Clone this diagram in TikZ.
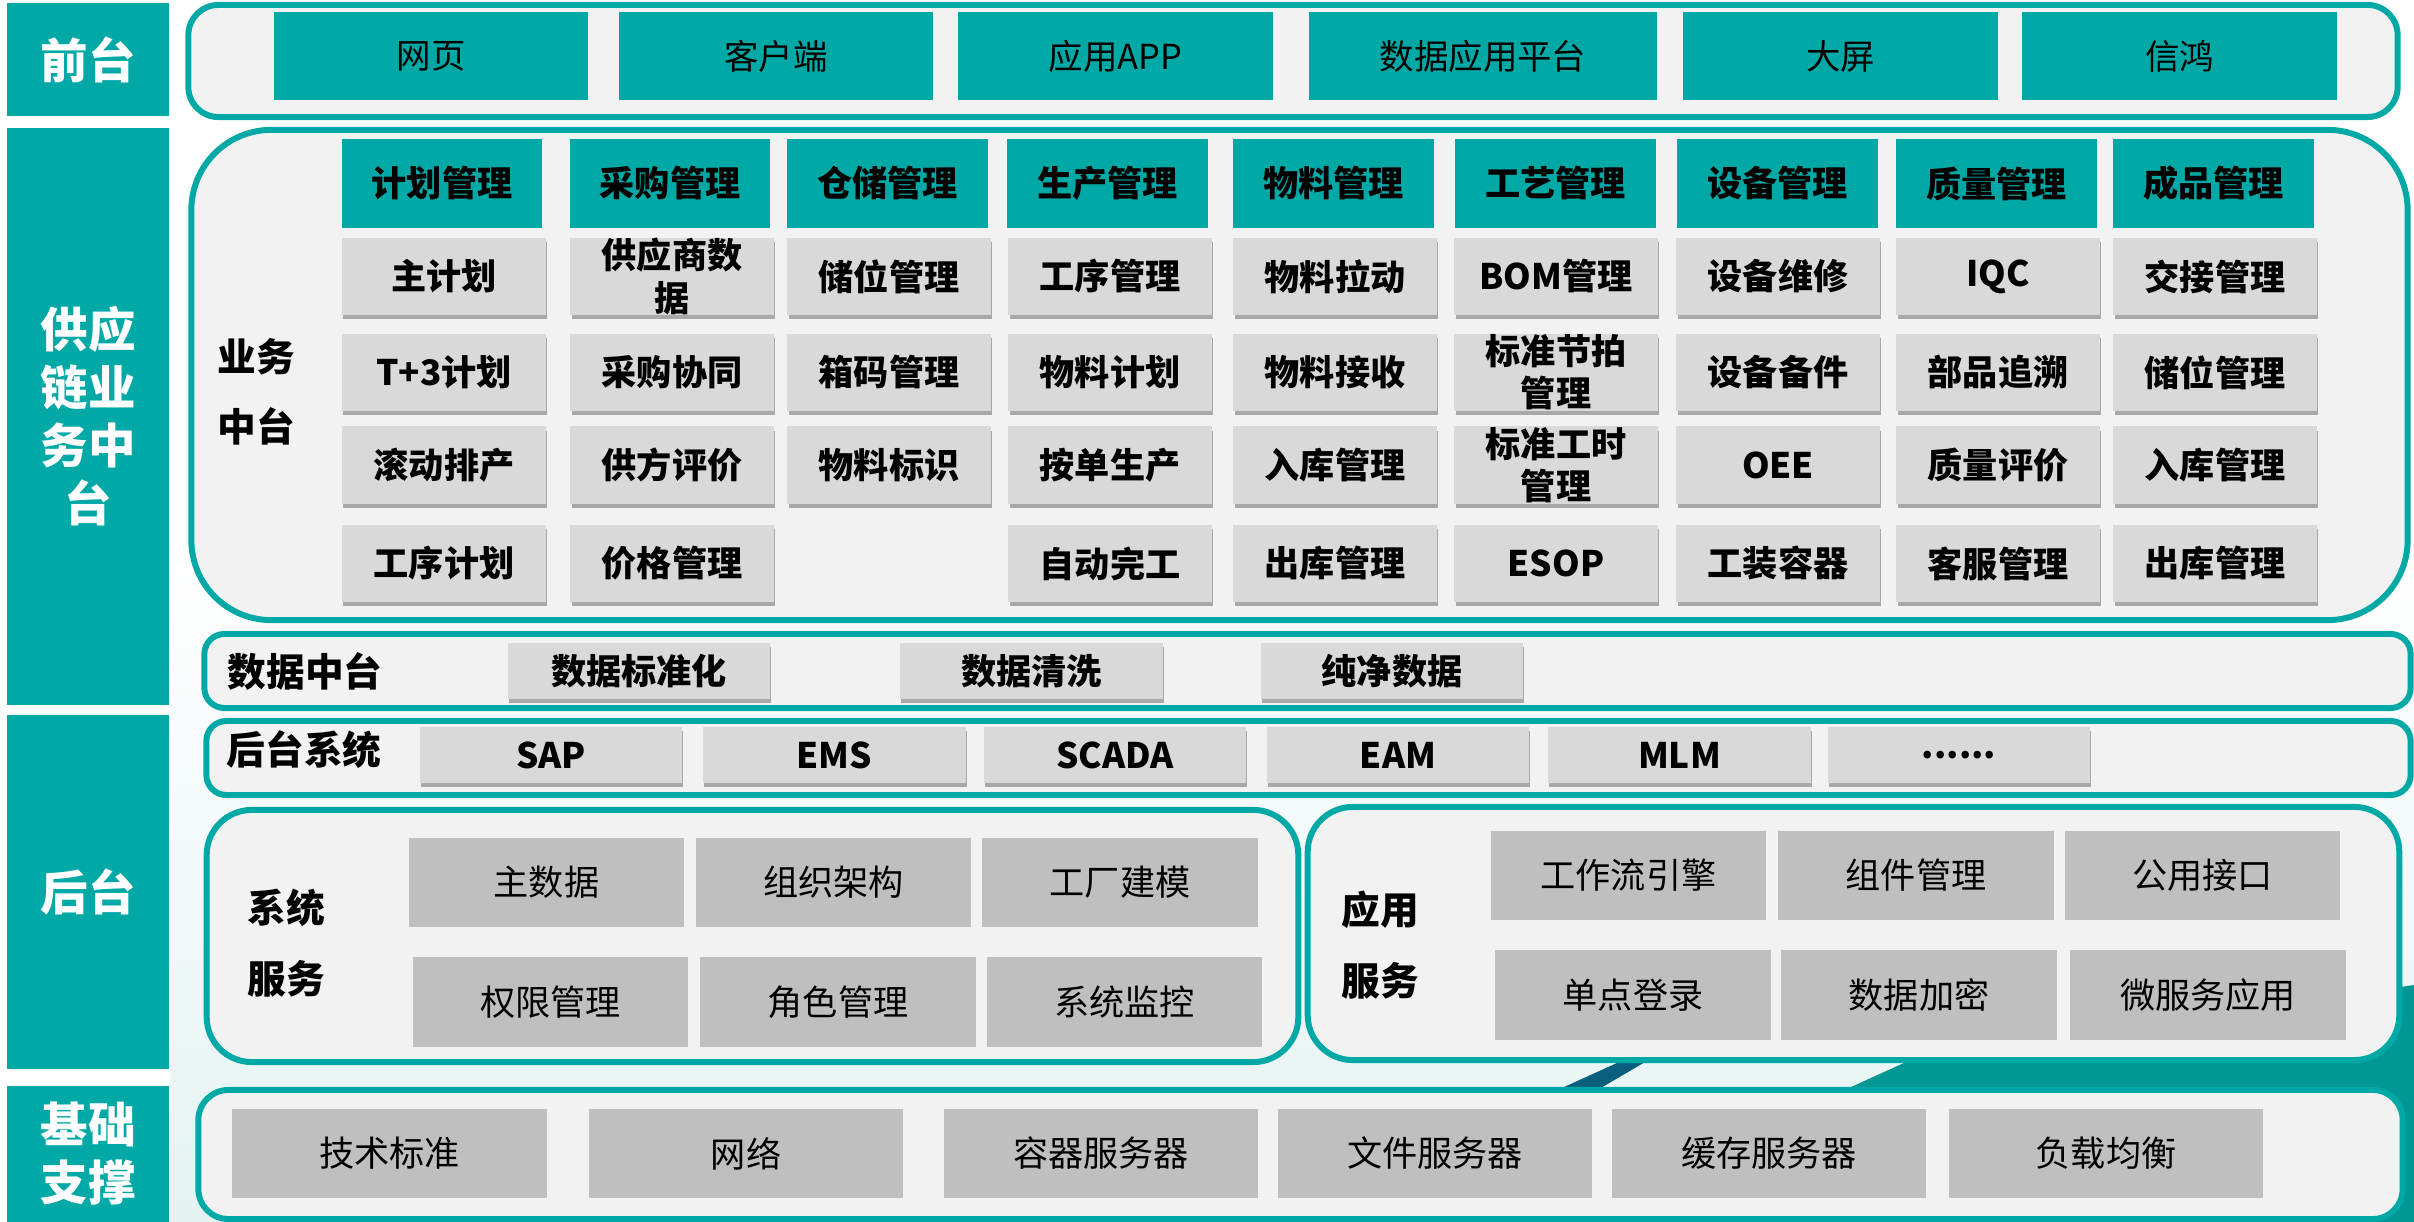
\documentclass[tikz,border=0pt]{standalone}
\usepackage{fontspec}
\setmainfont{Noto Sans CJK SC}
\usepackage{xcolor}
\usepackage{tikz}
\usetikzlibrary{shadows}

\definecolor{qteal}{HTML}{00A9A5}
\definecolor{qdeep}{HTML}{009794}
\definecolor{qnavy}{HTML}{0B5F7E}
\definecolor{qpanel}{HTML}{F2F2F2}
\definecolor{qcell}{HTML}{D9D9D9}
\definecolor{qserv}{HTML}{BFBFBF}
\definecolor{qtint}{HTML}{E4F2F2}

\begin{document}
\begin{tikzpicture}[x=0.01cm, y=-0.01cm,
        side/.style={rectangle, fill=qteal, text=white, align=center, inner sep=0pt,
            minimum width=1.62cm, font=\fontsize{13.5}{16.5}\selectfont\bfseries},
        panel/.style={rectangle, draw=qteal, line width=1.7pt, fill=qpanel, inner sep=0pt},
        title/.style={align=center, inner sep=0pt, font=\fontsize{11}{20}\selectfont\bfseries},
        front/.style={rectangle, fill=qteal, minimum width=3.14cm, minimum height=0.88cm,
            inner sep=0pt, font=\fontsize{9.8}{12}\selectfont},
        head/.style={rectangle, fill=qteal, minimum width=2cm, minimum height=0.89cm,
            inner sep=0pt, font=\fontsize{10}{12}\selectfont\bfseries},
        cell/.style={rectangle, fill=qcell, minimum width=2.03cm, minimum height=0.77cm,
            inner sep=0pt, align=center, font=\fontsize{10}{12}\selectfont\bfseries,
            drop shadow={shadow xshift=0.3pt, shadow yshift=-1.2pt, fill=black, opacity=0.3}},
        bar/.style={cell, minimum width=2.62cm, minimum height=0.56cm},
        serv/.style={rectangle, fill=qserv, minimum width=2.75cm, minimum height=0.89cm,
            inner sep=0pt, font=\fontsize{10}{12}\selectfont},
        base/.style={serv, minimum width=3.14cm}
    ]
        \useasboundingbox (0,0) rectangle (2414,1222);
        \fill[white] (0,0) rectangle (2414,1222);
        \shade[top color=white, bottom color=qtint] (170,560) rectangle (2414,1222);
        \fill[qdeep] (1840,1092) -- (1915,1058) -- (2414,985) -- (2414,1222) -- (1840,1222) -- cycle;
        \fill[qnavy] (1553,1092) -- (1628,1058) -- (1652,1058) -- (1594,1092) -- cycle;

        \node[side, minimum height=1.13cm] (front) at (88,59.5) {前台};
        \node[side, minimum height=5.77cm] (mid) at (88,416.5) {供应\\链业\\务中\\台};
        \node[side, minimum height=3.54cm] (back) at (88,892) {后台};
        \node[side, minimum height=1.36cm] (base) at (88,1154) {基础\\支撑};

        \node[panel, rounded corners=0.3cm, minimum width=22.08cm, minimum height=1.12cm] (pfront) at (1293,61) {};
        \node[panel, rounded corners=0.8cm, minimum width=22.15cm, minimum height=4.9cm] (pmid) at (1299.5,375) {};
        \node[panel, rounded corners=0.2cm, minimum width=22.05cm, minimum height=0.74cm] (pdata) at (1307.5,671) {};
        \node[panel, rounded corners=0.2cm, minimum width=22.03cm, minimum height=0.74cm] (pback) at (1308.5,758) {};
        \node[panel, rounded corners=0.45cm, minimum width=10.91cm, minimum height=2.52cm] (psys) at (752.5,936) {};
        \node[panel, rounded corners=0.45cm, minimum width=10.91cm, minimum height=2.53cm] (papp) at (1853.5,933.5) {};
        \node[panel, rounded corners=0.3cm, minimum width=22.03cm, minimum height=1.29cm] (pbase) at (1300.5,1154.5) {};

        \node[front] (F1) at (431,56) {网页};
        \node[front] (F2) at (776,56) {客户端};
        \node[front] (F3) at (1115.5,56) {应用APP};
        \node[front, minimum width=3.48cm] (F4) at (1483,56) {数据应用平台};
        \node[front] (F5) at (1840.5,56) {大屏};
        \node[front] (F6) at (2179.5,56) {信鸿};

        \node[title] (lmid) at (256,392) {业务\\中台};
        \node[head] (H1) at (442,183.5) {计划管理};
        \node[head] (H2) at (670,183.5) {采购管理};
        \node[head] (H3) at (887.5,183.5) {仓储管理};
        \node[head] (H4) at (1107.5,183.5) {生产管理};
        \node[head] (H5) at (1333.5,183.5) {物料管理};
        \node[head] (H6) at (1555.5,183.5) {工艺管理};
        \node[head] (H7) at (1777.5,183.5) {设备管理};
        \node[head] (H8) at (1996.5,183.5) {质量管理};
        \node[head] (H9) at (2213.5,183.5) {成品管理};

        \node[cell] (A1) at (444,276.5) {主计划};
        \node[cell] (A2) at (672,276.5) {供应商数\\据};
        \node[cell] (A3) at (889,276.5) {储位管理};
        \node[cell] (A4) at (1110,276.5) {工序管理};
        \node[cell] (A5) at (1335,276.5) {物料拉动};
        \node[cell] (A6) at (1556,276.5) {BOM管理};
        \node[cell] (A7) at (1778,276.5) {设备维修};
        \node[cell] (A8) at (1998,276.5) {IQC};
        \node[cell] (A9) at (2215,276.5) {交接管理};

        \node[cell] (B1) at (444,372.5) {T+3计划};
        \node[cell] (B2) at (672,372.5) {采购协同};
        \node[cell] (B3) at (889,372.5) {箱码管理};
        \node[cell] (B4) at (1110,372.5) {物料计划};
        \node[cell] (B5) at (1335,372.5) {物料接收};
        \node[cell] (B6) at (1556,372.5) {标准节拍\\管理};
        \node[cell] (B7) at (1778,372.5) {设备备件};
        \node[cell] (B8) at (1998,372.5) {部品追溯};
        \node[cell] (B9) at (2215,372.5) {储位管理};

        \node[cell] (C1) at (444,465) {滚动排产};
        \node[cell] (C2) at (672,465) {供方评价};
        \node[cell] (C3) at (889,465) {物料标识};
        \node[cell] (C4) at (1110,465) {按单生产};
        \node[cell] (C5) at (1335,465) {入库管理};
        \node[cell] (C6) at (1556,465) {标准工时\\管理};
        \node[cell] (C7) at (1778,465) {OEE};
        \node[cell] (C8) at (1998,465) {质量评价};
        \node[cell] (C9) at (2215,465) {入库管理};

        \node[cell] (D1) at (444,563.5) {工序计划};
        \node[cell] (D2) at (672,563.5) {价格管理};
        \node[cell] (D4) at (1110,563.5) {自动完工};
        \node[cell] (D5) at (1335,563.5) {出库管理};
        \node[cell] (D6) at (1556,563.5) {ESOP};
        \node[cell] (D7) at (1778,563.5) {工装容器};
        \node[cell] (D8) at (1998,563.5) {客服管理};
        \node[cell] (D9) at (2215,563.5) {出库管理};

        \node[title] (ldata) at (305,671) {数据中台};
        \node[bar] (E1) at (639,671) {数据标准化};
        \node[bar] (E2) at (1031.5,671) {数据清洗};
        \node[bar] (E3) at (1392,671) {纯净数据};

        \node[title] (lback) at (304,750) {后台系统};
        \node[bar] (S1) at (551,755) {SAP};
        \node[bar] (S2) at (834.5,755) {EMS};
        \node[bar] (S3) at (1115,755) {SCADA};
        \node[bar] (S4) at (1398,755) {EAM};
        \node[bar] (S5) at (1679.5,755) {MLM};
        \node[bar] (S6) at (1959,755) {......};

        \node[title] (lsys) at (286,943) {系统\\服务};
        \node[serv] (Y1) at (546.5,882.5) {主数据};
        \node[serv] (Y2) at (833.5,882.5) {组织架构};
        \node[serv] (Y3) at (1120,882.5) {工厂建模};
        \node[serv] (Y4) at (550.5,1002) {权限管理};
        \node[serv] (Y5) at (838,1002) {角色管理};
        \node[serv] (Y6) at (1124.5,1002) {系统监控};

        \node[title] (lapp) at (1380,945) {应用\\服务};
        \node[serv] (P1) at (1628.5,875.5) {工作流引擎};
        \node[serv] (P2) at (1916,875.5) {组件管理};
        \node[serv] (P3) at (2202.5,875.5) {公用接口};
        \node[serv] (P4) at (1633,995) {单点登录};
        \node[serv] (P5) at (1919,995) {数据加密};
        \node[serv] (P6) at (2208,995) {微服务应用};

        \node[base] (J1) at (389.5,1153.5) {技术标准};
        \node[base] (J2) at (746,1153.5) {网络};
        \node[base] (J3) at (1101,1153.5) {容器服务器};
        \node[base] (J4) at (1435,1153.5) {文件服务器};
        \node[base] (J5) at (1769,1153.5) {缓存服务器};
        \node[base] (J6) at (2106,1153.5) {负载均衡};
    \end{tikzpicture}
\end{document}
